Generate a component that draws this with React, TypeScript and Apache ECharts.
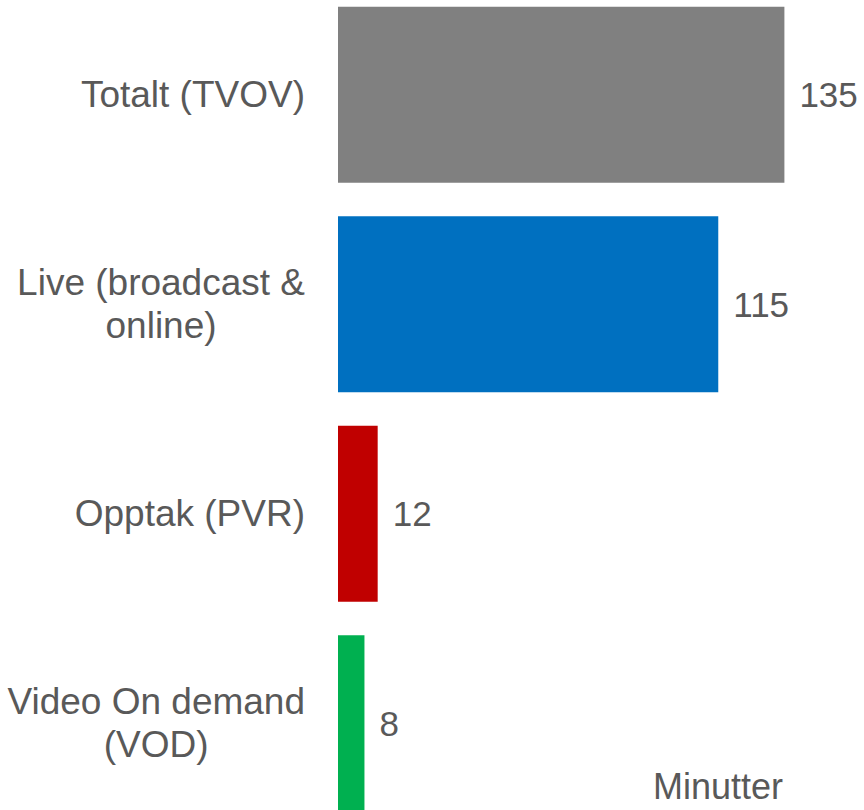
import React, { useEffect, useRef } from "react";
import * as echarts from "echarts";

const categories = [
  "Totalt (TVOV)",
  "Live (broadcast &\nonline)",
  "Opptak (PVR)",
  "Video On demand\n(VOD)",
];
const minutes = [135, 115, 12, 8];
const barColors = ["#808080", "#0070C0", "#C00000", "#00B050"];
const unitLabel = "Minutter";

const FONT = "Arial, 'Liberation Sans', sans-serif";
const TEXT = "#595959";
const OFFSET = 10;

export default function App() {
  const ref = useRef<HTMLDivElement>(null);
  useEffect(() => {
    if (!ref.current) return;
    const chart = echarts.init(ref.current, null, { renderer: "svg" });
    chart.setOption({
      animation: false,
      backgroundColor: "#ffffff",
      grid: { left: 338, right: 30, top: 0, bottom: 0, containLabel: false },
      xAxis: { type: "value", min: 0, max: 150, show: false },
      yAxis: {
        type: "category",
        inverse: true,
        data: categories,
        axisLine: { show: false },
        axisTick: { show: false },
        splitLine: { show: false },
        axisLabel: {
          interval: 0,
          margin: 33,
          color: TEXT,
          fontSize: 37,
          fontFamily: FONT,
          formatter: (v: string) =>
            v
              .split("\n")
              .map((l) => `{c|${l}}`)
              .join("\n"),
          rich: {
            c: {
              align: "center",
              fontSize: 37,
              lineHeight: 43,
              color: TEXT,
              fontFamily: FONT,
            },
          },
        },
      },
      series: [
        {
          type: "bar",
          barWidth: 176,
          data: minutes.map((v, i) => ({ value: v, itemStyle: { color: barColors[i] } })),
          label: {
            show: true,
            position: "right",
            distance: 15,
            color: TEXT,
            fontSize: 35,
            fontFamily: FONT,
          },
        },
      ],
      graphic: [
        {
          type: "text",
          left: 653,
          top: 768 + OFFSET,
          style: {
            text: unitLabel,
            fill: TEXT,
            fontSize: 36,
            fontFamily: FONT,
          },
        },
      ],
    });
    return () => chart.dispose();
  }, []);
  return (
    <div
      ref={ref}
      style={{ position: "fixed", left: 0, top: -OFFSET, width: 864, height: 838 }}
    />
  );
}
